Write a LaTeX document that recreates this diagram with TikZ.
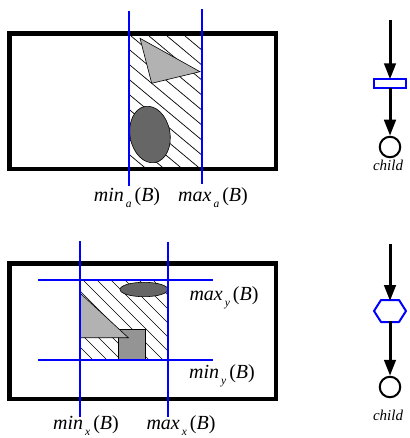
\documentclass[tikz,border=0pt]{standalone}
\usepackage{fontspec}
\setmainfont{Liberation Serif}
\usetikzlibrary{arrows.meta}
\newcommand\blab[2]{\fontsize{20}{23}\selectfont\textit{#1}\hspace{2pt}\raisebox{-6.5pt}{\fontsize{11.5}{12}\selectfont\textit{#2}}\hspace{3pt}(\textit{B})}
\tikzset{
  frame/.style={draw=black, line width=4.6pt},
  hatch/.style={draw=black, line width=0.7pt},
  bline/.style={draw=blue, line width=2pt},
  lgray/.style={draw=black, line width=0.6pt, fill=black!30},
  mgray/.style={draw=black, line width=0.6pt, fill=black!42},
  dgray/.style={draw=black, line width=0.6pt, fill=black!60},
  lab/.style={anchor=base, inner sep=0pt},
  arr/.style={draw=black, line width=3pt, -{Triangle[length=16pt,width=11.5pt]}},
  child/.style={circle, draw=black, line width=2pt, minimum size=20.5pt, inner sep=0pt},
  childlab/.style={anchor=base, inner sep=0pt, font=\fontsize{15}{17}\selectfont\itshape},
}
\begin{document}
\begin{tikzpicture}[x=1pt, y=-1pt]
\useasboundingbox (0,0) rectangle (409,438);
\fill[white] (0,0) rectangle (409,438);

% ---------- top panel ----------
\draw[frame] (9.5,33.3) rectangle (276,169);
\begin{scope}
  \clip (129,36) rectangle (202,167);
  \foreach \k in {-10,...,4} \draw[hatch] (131+18*\k,36) -- ++(200,166.7);
\end{scope}
\draw[lgray] (140,38.3) -- (200,71.7) -- (151.7,83.3) -- cycle;
\draw[dgray, rotate around={10:(150,134.5)}] (150,134.5) ellipse [x radius=20, y radius=28.5];
\draw[bline] (129,11) -- (129,186);
\draw[bline] (202,9) -- (202,184);
\node[lab] (mina) at (127,201) {\blab{min}{a}};
\node[lab] (maxa) at (213,201) {\blab{max}{a}};

% ---------- bottom panel ----------
\draw[frame] (9.5,263.3) rectangle (276,399);
\begin{scope}
  \clip (80,280) rectangle (168,360);
  \foreach \k in {-7,...,6} \draw[hatch] (83+14*\k,280) -- ++(100,100);
\end{scope}
\draw[dgray] (144,289.5) ellipse [x radius=24, y radius=7.2];
\draw[mgray] (118.3,329.3) rectangle (145,360);
\draw[lgray] (80,293) -- (80,337.7) -- (128.3,337.7) -- cycle;
\draw[red, line width=0.7pt] (80,280) rectangle (168,360);
\draw[bline] (80,241) -- (80,417);
\draw[bline] (168,242) -- (168,417);
\draw[bline] (38,280) -- (213,280);
\draw[bline] (38,360) -- (213,360);
\node[lab] (maxy) at (224,300) {\blab{max}{y}};
\node[lab] (miny) at (222,378) {\blab{min}{y}};
\node[lab] (minx) at (86,429) {\blab{min}{x}};
\node[lab] (maxx) at (181,429) {\blab{max}{x}};

% ---------- right, top ----------
\coordinate (s1) at (390,20);
\node[draw=blue, line width=2pt, fill=white, minimum width=31.5pt, minimum height=9pt, inner sep=0pt, outer sep=0pt] (box) at (390,83.8) {};
\node[child] (c1) at (390,147) {};
\node[childlab] (l1) at (388,171) {child};
\draw[arr] (s1) -- (box.north);
\draw[arr] (box.south) -- (c1.north);

% ---------- right, bottom ----------
\coordinate (s2) at (390,244);
\node[minimum width=32pt, minimum height=22pt, inner sep=0pt, outer sep=0pt] (hex) at (390,311) {};
\draw[draw=blue, line width=2pt, line join=round]
  (hex.west) -- ([xshift=7pt]hex.north west) -- ([xshift=-7pt]hex.north east)
  -- (hex.east) -- ([xshift=-7pt]hex.south east) -- ([xshift=7pt]hex.south west) -- cycle;
\node[child] (c2) at (390,387) {};
\node[childlab] (l2) at (388,420) {child};
\draw[arr] (s2) -- ([yshift=-1pt]hex.north);
\draw[arr] ([yshift=1pt]hex.south) -- (c2.north);
\end{tikzpicture}
\end{document}
